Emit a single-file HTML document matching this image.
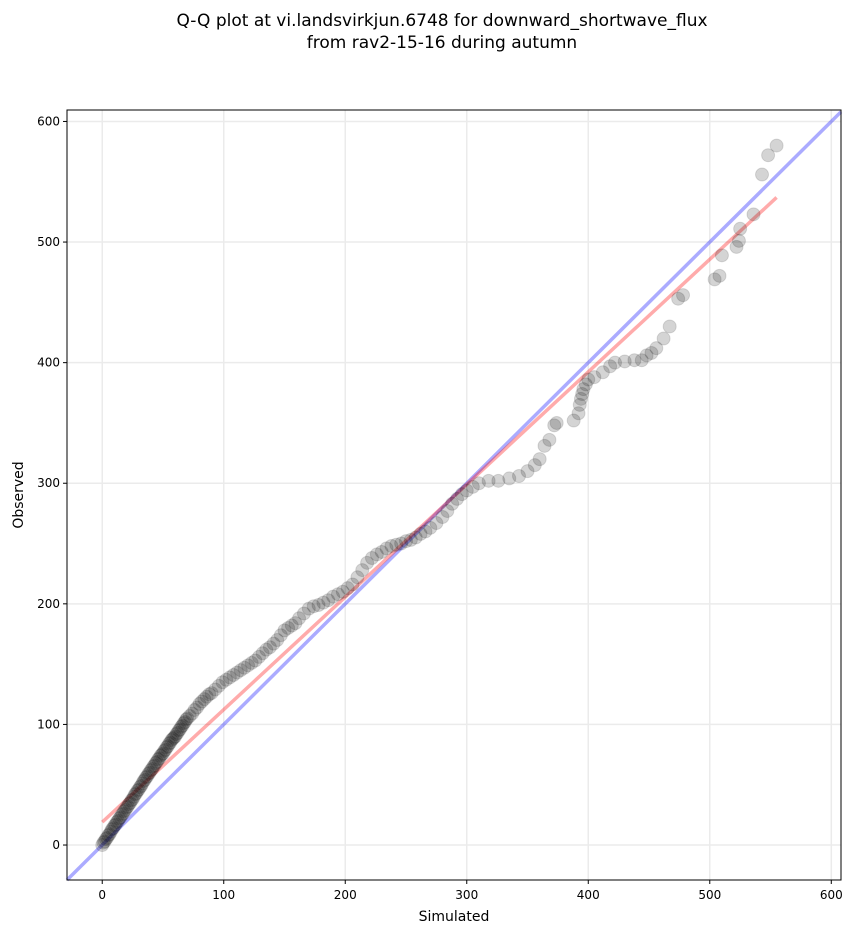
<!DOCTYPE html>
<html><head><meta charset="utf-8"><style>
body{margin:0;background:#fff;font-family:"Liberation Sans","DejaVu Sans",sans-serif}
svg text{font-family:"DejaVu Sans","Liberation Sans",sans-serif}
</style></head><body>
<svg id="chart" width="853" height="934">
<text x="442" y="26" text-anchor="middle" font-size="17">Q-Q plot at vi.landsvirkjun.6748 for downward_shortwave_flux</text>
<text x="442" y="48" text-anchor="middle" font-size="17">from rav2-15-16 during autumn</text>
<g id="grid"></g><g id="lines"></g><g id="pts"></g><g id="axes"></g>
<text x="454" y="921" text-anchor="middle" font-size="14">Simulated</text>
<text transform="translate(23,495) rotate(-90)" text-anchor="middle" font-size="14">Observed</text>
</svg>
<script>
const sim=[0,1,2,3,4,5,6,7,8,9,
10,11,12,13,14,15,16,17,18,19,
20,21,22,23,24,25,26,27,28,29,
30,31,32,33,34,35,36,37,38,39,
40,41,42,43,44,45,46,47,48,49,
50,51,52,53,54,55,56,57,58,59,
60,61,62,63,64,65,66,67,68,69,
70,72,74,76,78,80,82,84,86,88,
90,93,96,99,102,105,108,111,114,117,
120,123,126,129,132,135,138,141,144,147,
150,153,156,159,162,166,170,174,178,182,
186,190,194,198,202,206,210,214,218,222,
226,230,234,238,242,246,250,254,258,262,
266,270,275,280,284,288,292,296,300,305,
310,318,326,335,343,350,356,360,364,368,
372,374,388,392,393,394,395,396,398,400,
405,412,418,422,430,438,444,448,452,456,
462,467,474,478,504,508,510,522,524,525,
536,543,548,555];
const obs=[0,2,3,5,6,8,9,11,13,14,
16,17,19,20,22,23,25,26,28,29,
31,32,34,35,37,38,40,42,43,45,
46,48,49,51,53,54,56,57,59,60,
62,63,65,66,68,69,71,72,74,75,
76,78,79,81,82,84,85,87,88,89,
90,92,93,95,96,98,99,101,102,104,
105,107,109,112,114,117,119,121,123,125,
126,129,132,135,137,139,141,143,145,147,
149,151,153,156,159,162,164,167,170,174,
178,180,182,184,188,192,196,198,199,201,
203,206,208,210,213,216,222,228,234,238,
241,243,246,248,249,250,252,253,255,258,
260,263,267,272,277,283,287,291,294,297,
300,302,302,304,306,310,315,320,331,336,
348,350,352,358,365,370,374,378,382,386,
388,392,397,400,401,402,402,406,408,412,
420,430,453,456,469,472,489,496,501,511,
523,556,572,580];
const xTicks=[0,100,200,300,400,500,600];
const yTicks=[0,100,200,300,400,500,600];
const fitStart=[0,19], fitEnd=[555,537];
const L=67,R=841,T=110,B=880,MIN=-29,XMAX=608,YMAX=609.5;
const X=v=>L+(v-MIN)/(XMAX-MIN)*(R-L);
const Y=v=>B-(v-MIN)/(YMAX-MIN)*(B-T);
const NS='http://www.w3.org/2000/svg';
function mk(tag,attrs,parent){const e=document.createElementNS(NS,tag);for(const k in attrs)e.setAttribute(k,attrs[k]);parent.appendChild(e);return e;}
const grid=document.getElementById('grid'),axes=document.getElementById('axes'),lines=document.getElementById('lines'),pts=document.getElementById('pts');
xTicks.forEach(t=>{const x=X(t);
 const g=mk('line',{x1:x,x2:x,y1:T,y2:B,stroke:'#ebebeb','stroke-width':1.5},grid);
 
 
 mk('line',{x1:x,x2:x,y1:B,y2:B+4,stroke:'#000'},axes);
 const tx=mk('text',{x:x,y:B+19,'text-anchor':'middle','font-size':12},axes);tx.textContent=t;
 
 });
yTicks.forEach(t=>{const y=Y(t);
 const g=mk('line',{x1:L,x2:R,y1:y,y2:y,stroke:'#ebebeb','stroke-width':1.5},grid);
 
 
 mk('line',{x1:L-4,x2:L,y1:y,y2:y,stroke:'#000'},axes);
 const tx=mk('text',{x:L-7,y:y+4,'text-anchor':'end','font-size':12},axes);tx.textContent=t;
 
 });
const fr=mk('rect',{x:L,y:T,width:R-L,height:B-T,fill:'none',stroke:'#000','stroke-width':1},axes);


const idl=mk('line',{x1:X(MIN),y1:Y(MIN),x2:X(XMAX),y2:Y(XMAX),stroke:'#0000ff','stroke-opacity':0.33,'stroke-width':3.5},lines);


const fit=mk('line',{x1:X(fitStart[0]),y1:Y(fitStart[1]),x2:X(fitEnd[0]),y2:Y(fitEnd[1]),stroke:'#ff0000','stroke-opacity':0.33,'stroke-width':3.5},lines);


sim.forEach((s,i)=>{const c=mk('circle',{cx:X(s),cy:Y(obs[i]),r:6.5,fill:'#000','fill-opacity':0.17,stroke:'#000','stroke-opacity':0.12,'stroke-width':1},pts);
 
 });
</script>
</body></html>
